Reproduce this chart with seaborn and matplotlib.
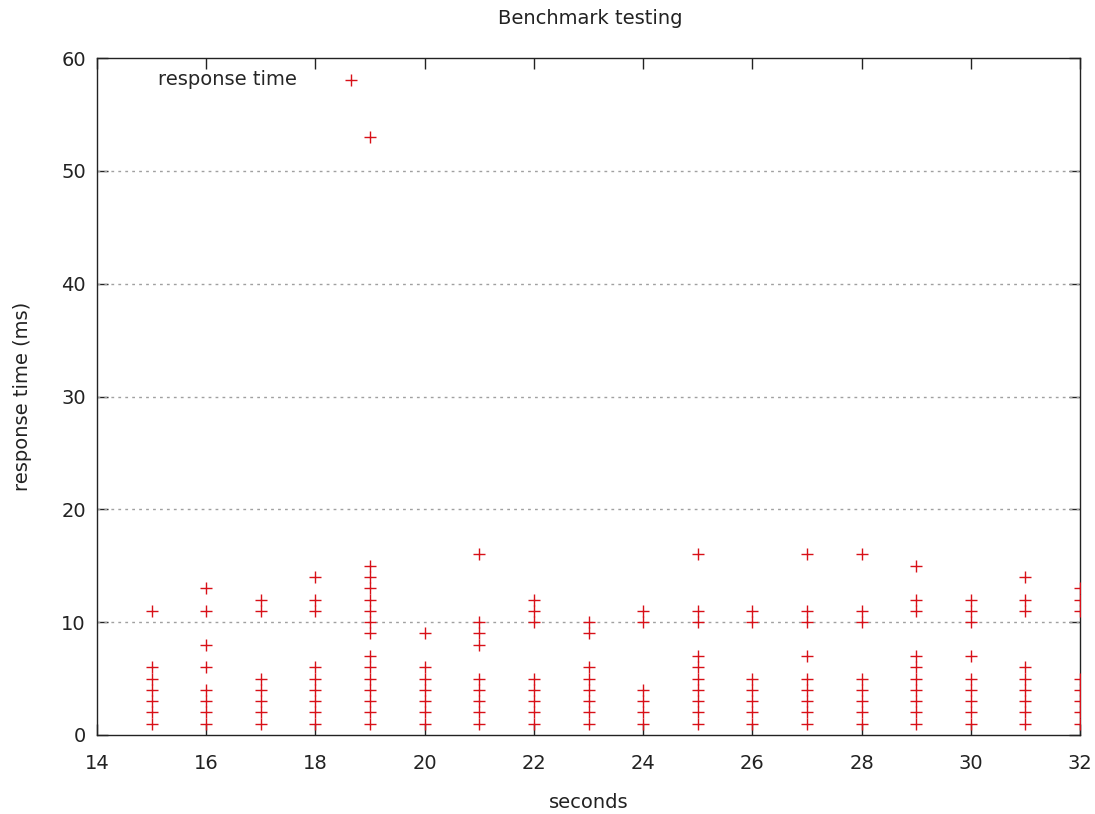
import matplotlib
matplotlib.use("Agg")
import matplotlib.pyplot as plt
import pandas as pd
import seaborn as sns

# response times (ms) observed in each second
r15 = [1, 2, 3, 4, 5, 6, 11]
r16 = [1, 2, 3, 4, 6, 8, 11, 13]
r17 = [1, 2, 3, 4, 5, 11, 12]
r18 = [1, 2, 3, 4, 5, 6, 11, 12, 14]
r19 = [1, 2, 3, 4, 5, 6, 7, 9, 10, 11, 12, 13, 14, 15, 53]
r20 = [1, 2, 3, 4, 5, 6, 9]
r21 = [1, 2, 3, 4, 5, 8, 9, 10, 16]
r22 = [1, 2, 3, 4, 5, 10, 11, 12]
r23 = [1, 2, 3, 4, 5, 6, 9, 10]
r24 = [1, 2, 3, 4, 10, 11]
r25 = [1, 2, 3, 4, 5, 6, 7, 10, 11, 16]
r26 = [1, 2, 3, 4, 5, 10, 11]
r27 = [1, 2, 3, 4, 5, 7, 10, 11, 16]
r28 = [1, 2, 3, 4, 5, 10, 11, 16]
r29 = [1, 2, 3, 4, 5, 6, 7, 11, 12, 15]
r30 = [1, 2, 3, 4, 5, 7, 10, 11, 12]
r31 = [1, 2, 3, 4, 5, 6, 11, 12, 14]
r32 = [1, 2, 3, 4, 5, 11, 12, 13]

seconds = list(range(15, 33))
per_second = [r15, r16, r17, r18, r19, r20, r21, r22, r23, r24,
              r25, r26, r27, r28, r29, r30, r31, r32]

rows = [(s, v) for s, vals in zip(seconds, per_second) for v in vals]
df = pd.DataFrame(rows, columns=["seconds", "response"])

sns.set_style("ticks")
plt.rcParams["font.family"] = ["DejaVu Sans"]

fs = 14
ink = "#222222"

fig = plt.figure(figsize=(10.95, 8.14), dpi=100)
ax = fig.add_axes([97 / 1095, 1 - 735 / 814, 983 / 1095, 677 / 814])

sns.scatterplot(data=df, x="seconds", y="response", marker="+", color="#d81018",
                s=65, linewidth=1.0, label="response time", ax=ax, zorder=3)

ax.set_xlim(14, 32)
ax.set_ylim(0, 60)
ax.set_xticks(range(14, 33, 2))
ax.set_yticks(range(0, 61, 10))
for y in range(10, 60, 10):
    ax.axhline(y, color="#a0a0a0", linestyle=(0, (2, 3)), linewidth=1, zorder=1)

ax.tick_params(direction="in", top=True, right=True, length=8, width=1,
               labelsize=fs, colors=ink)
ax.tick_params(axis="x", pad=14)
ax.tick_params(axis="y", pad=8)
for sp in ax.spines.values():
    sp.set_color(ink)
    sp.set_linewidth(1)

ax.set_xlabel("seconds", fontsize=fs, labelpad=14, color=ink)
ax.set_ylabel("response time (ms)", fontsize=fs, labelpad=21, color=ink)
fig.text(590 / 1095, 1 - 18 / 814, "Benchmark testing", ha="center", va="center",
         fontsize=fs, color=ink)

leg = ax.legend(loc="upper left", bbox_to_anchor=(0.05, 1.0), frameon=False,
                markerfirst=False, handlelength=3.0, handletextpad=1.3,
                fontsize=fs, borderaxespad=0.2)

fig.savefig("out.png", dpi=100)
